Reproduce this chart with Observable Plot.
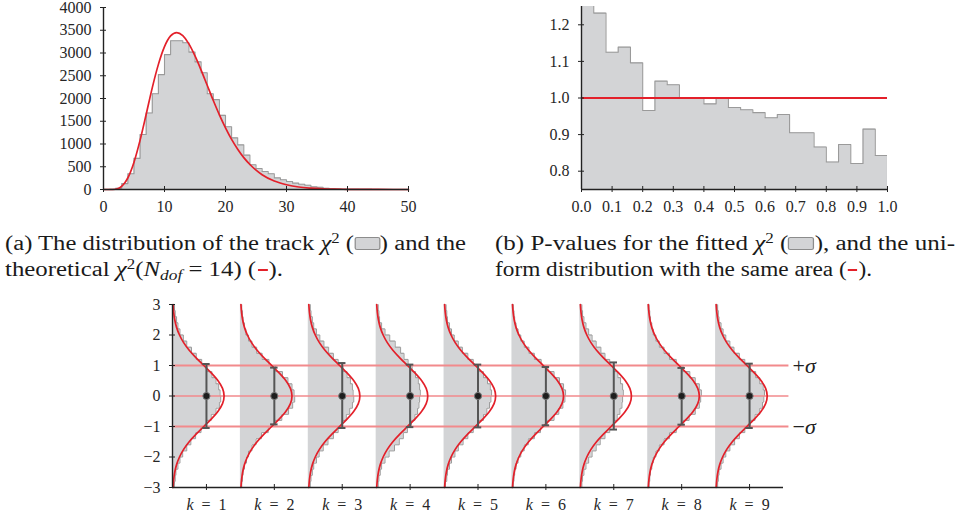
<!DOCTYPE html>
<html><head><meta charset="utf-8">
<script src="https://cdn.jsdelivr.net/npm/d3@7"></script>
<script src="https://cdn.jsdelivr.net/npm/@observablehq/plot@0.6"></script>
<style>
body{margin:0;background:#fff;}
#root{position:relative;width:960px;height:516px;overflow:hidden;font-family:"Liberation Serif","Times New Roman",serif;color:#1a1a1a;}
.panel{position:absolute;}
.cap{position:absolute;font-size:20px;line-height:20px;white-space:nowrap;transform-origin:0 0;}
.cap sup{font-size:0.68em;line-height:0;vertical-align:0.55em;}
.cap sub{font-size:0.7em;line-height:0;vertical-align:-0.3em;font-style:italic;}
.box{display:inline-block;width:19px;height:11px;background:#d3d4d6;border:1.5px solid #8c8c8c;border-radius:2px;vertical-align:0px;}
.dash{display:inline-block;width:8px;height:2.5px;background:#e32028;vertical-align:5px;margin:0 1px;}
</style></head>
<body><div id="root"></div>
<script>
// ---------- Panel (a): chi2 histogram ----------
const chi2BinLo = [0,1,2,3,4,5,6,7,8,9,10,11,12,13,14,15,16,17,18,19,20,21,22,23,24,25,26,27,28,29,30,31,32,33,34,35,36,37,38,39,40,41,42,43,44,45,46,47,48,49];
const chi2Counts = [0,2,25,130,345,685,1210,1680,2105,2525,2965,3270,3270,3225,3020,2805,2565,2105,1975,1630,1380,1135,980,755,545,460,395,345,255,215,175,140,115,95,60,50,25,15,10,6,4,3,2,2,1,1,1,0,0,0];
const chiCurveX = [0,1,2,2.5,3,3.5,4,5,6,7,8,9,10,11,12,13,14,15,16,17,18,19,20,21,22,23,24,26,28,30,32,34,36,38,40,45,50];
const chiCurveY = [0,0,5,25,75,150,258,600,1085,1655,2240,2750,3140,3375,3450,3380,3200,2935,2625,2290,1955,1640,1355,1100,885,700,550,325,185,105,55,30,15,8,4,1,0];
const chiXTicks = [0,10,20,30,40,50];
const chiYTicks = [0,500,1000,1500,2000,2500,3000,3500,4000];

// ---------- Panel (b): p-values ----------
const pBinLo = [0,0.04,0.08,0.12,0.16,0.20,0.24,0.28,0.32,0.36,0.40,0.44,0.48,0.52,0.56,0.60,0.64,0.68,0.72,0.76,0.80,0.84,0.88,0.92,0.96];
const pValues = [1.27,1.232,1.125,1.139,1.096,0.966,1.046,1.036,1.0,1.0,0.984,1.0,0.974,0.968,0.960,0.946,0.955,0.905,0.905,0.866,0.825,0.873,0.821,0.915,0.843];
const pUniform = [1.0];
const pXTicks = [0,0.1,0.2,0.3,0.4,0.5,0.6,0.7,0.8,0.9,1.0];
const pYTicks = [0.8,0.9,1.0,1.1,1.2];

// ---------- Panel (c): pulls per k ----------
const kVals = [1,2,3,4,5,6,7,8,9];
const sigBinLo = [-3,-2.8,-2.6,-2.4,-2.2,-2,-1.8,-1.6,-1.4,-1.2,-1,-0.8,-0.6,-0.4,-0.2,0,0.2,0.4,0.6,0.8,1,1.2,1.4,1.6,1.8,2,2.2,2.4,2.6,2.8];
const hist1 = [0.03,0.04,0.05,0.08,0.11,0.15,0.21,0.27,0.34,0.42,0.50,0.57,0.64,0.69,0.71,0.70,0.68,0.64,0.58,0.51,0.43,0.35,0.28,0.21,0.16,0.11,0.08,0.06,0.04,0.03];
const hist2 = [0.02,0.03,0.04,0.06,0.09,0.12,0.17,0.23,0.31,0.41,0.51,0.61,0.71,0.77,0.80,0.79,0.76,0.70,0.62,0.52,0.42,0.32,0.24,0.17,0.12,0.08,0.06,0.04,0.03,0.02];
const hist3 = [0.03,0.04,0.06,0.08,0.12,0.16,0.22,0.29,0.37,0.44,0.50,0.56,0.61,0.65,0.67,0.66,0.65,0.62,0.57,0.51,0.44,0.37,0.30,0.23,0.17,0.12,0.08,0.06,0.04,0.03];
const hist4 = [0.03,0.04,0.06,0.08,0.13,0.19,0.27,0.34,0.40,0.46,0.52,0.57,0.61,0.63,0.64,0.65,0.64,0.62,0.58,0.53,0.47,0.41,0.36,0.28,0.20,0.13,0.08,0.05,0.04,0.03];
const hist5 = [0.02,0.04,0.05,0.08,0.11,0.16,0.21,0.28,0.35,0.43,0.51,0.58,0.63,0.67,0.69,0.70,0.68,0.64,0.58,0.51,0.43,0.35,0.27,0.21,0.15,0.11,0.08,0.05,0.04,0.03];
const hist6 = [0.02,0.03,0.04,0.06,0.09,0.13,0.18,0.24,0.33,0.42,0.52,0.62,0.69,0.75,0.78,0.79,0.76,0.70,0.62,0.53,0.43,0.33,0.25,0.18,0.13,0.09,0.06,0.04,0.03,0.02];
const hist7 = [0.03,0.04,0.06,0.09,0.13,0.18,0.24,0.30,0.37,0.44,0.50,0.55,0.59,0.62,0.63,0.64,0.63,0.60,0.56,0.50,0.44,0.37,0.31,0.24,0.18,0.13,0.09,0.06,0.04,0.03];
const hist8 = [0.02,0.03,0.04,0.06,0.08,0.12,0.17,0.24,0.32,0.42,0.52,0.61,0.70,0.76,0.78,0.79,0.76,0.70,0.62,0.52,0.42,0.32,0.24,0.17,0.12,0.08,0.06,0.04,0.03,0.02];
const hist9 = [0.03,0.04,0.05,0.08,0.11,0.15,0.21,0.28,0.35,0.43,0.51,0.58,0.65,0.69,0.71,0.72,0.70,0.65,0.59,0.51,0.43,0.35,0.27,0.21,0.15,0.11,0.08,0.05,0.04,0.03];
const errHi = [1.05,0.93,1.08,1.03,1.03,0.95,1.10,0.92,1.06];
const errLo = [-1.05,-0.93,-1.05,-1.02,-1.03,-0.96,-1.10,-0.94,-1.05];
const gaussY = [-3,-2.75,-2.5,-2.25,-2,-1.75,-1.5,-1.25,-1,-0.75,-0.5,-0.25,0,0.25,0.5,0.75,1,1.25,1.5,1.75,2,2.25,2.5,2.75,3];
const gaussW = [0.008,0.017,0.033,0.060,0.103,0.164,0.246,0.348,0.461,0.574,0.671,0.737,0.760,0.737,0.671,0.574,0.461,0.348,0.246,0.164,0.103,0.060,0.033,0.017,0.008];
const sigmaLines = [-1,1];
const sigYTicks = [-3,-2,-1,0,1,2,3];
const sigmaLabels = ["+σ","−σ"];
const sigmaLabelY = [1,-1];

const RED = "#e3202a", GRAY = "#d3d4d6", EDGE = "#9a9a9a", AX = "#222", PINK = "#f28a8c";
const baseStyle = {fontFamily: "'Liberation Serif', 'Times New Roman', serif", fontSize: "16px", color: "#262626", background: "transparent", overflow: "visible"};
const root = document.getElementById("root");
function place(el, left, top) {
  const d = document.createElement("div"); d.className = "panel"; d.style.left = left + "px"; d.style.top = top + "px";
  d.appendChild(el); root.appendChild(d);
}
const minusFmt = d => (d < 0 ? "\u2212" + Math.abs(d) : String(d));

// Panel (a)
const aPts = chi2Counts.map((c, i) => ({x: chi2BinLo[i], y: c}));
aPts.push({x: chi2BinLo[chi2BinLo.length - 1] + 1, y: chi2Counts[chi2Counts.length - 1]});
const chiCurve = chiCurveX.map((x, i) => ({x, y: chiCurveY[i]}));
const plotA = Plot.plot({
  width: 420, height: 220, marginLeft: 103, marginRight: 12, marginTop: 7, marginBottom: 31,
  x: {domain: [0, 50], label: null}, y: {domain: [0, 4000], label: null},
  style: baseStyle,
  marks: [
    Plot.areaY(aPts, {x: "x", y: "y", curve: "step-after", fill: GRAY}),
    Plot.lineY(aPts, {x: "x", y: "y", curve: "step-after", stroke: EDGE, strokeWidth: 1.1}),
    Plot.line(chiCurve, {x: "x", y: "y", curve: "monotone-x", stroke: RED, strokeWidth: 1.7}),
    Plot.ruleX([0], {stroke: AX, strokeWidth: 1.4}),
    Plot.ruleY([0], {stroke: AX, strokeWidth: 1.4}),
    Plot.axisY(chiYTicks, {tickSize: 6, dx: 3, fill: "none", stroke: AX, label: null}),
    Plot.axisY(chiYTicks, {tickSize: 0, tickPadding: 12, tickFormat: "d", label: null}),
    Plot.axisX(chiXTicks, {tickSize: 6, dy: -3, fill: "none", stroke: AX, label: null}),
    Plot.axisX(chiXTicks, {tickSize: 0, tickPadding: 11, tickFormat: "d", label: null})
  ]
});
place(plotA, 0, 0);

// Panel (b)
const bPts = pValues.map((v, i) => ({x: pBinLo[i], y: v}));
bPts.push({x: 1.0, y: pValues[pValues.length - 1]});
bPts.push({x: 1.0, y: 0.75});
const plotB = Plot.plot({
  width: 420, height: 220, marginLeft: 91, marginRight: 23, marginTop: 6, marginBottom: 31,
  x: {domain: [0, 1], label: null}, y: {domain: [0.75, 1.25], label: null},
  style: baseStyle,
  marks: [
    Plot.areaY(bPts, {x: "x", y1: 0.75, y2: "y", curve: "step-after", fill: GRAY, clip: true}),
    Plot.lineY(bPts, {x: "x", y: "y", curve: "step-after", stroke: EDGE, strokeWidth: 1.1, clip: true}),
    Plot.ruleY(pUniform, {y: d => d, x1: 0, x2: 1, stroke: RED, strokeWidth: 2}),
    Plot.ruleX([0], {stroke: AX, strokeWidth: 1.4}),
    Plot.ruleY([0.75], {stroke: AX, strokeWidth: 1.4}),
    Plot.axisY(pYTicks, {tickSize: 6, dx: 3, fill: "none", stroke: AX, label: null}),
    Plot.axisY(pYTicks, {tickSize: 0, tickPadding: 12, tickFormat: ".1f", label: null}),
    Plot.axisX(pXTicks, {tickSize: 6, dy: -3, fill: "none", stroke: AX, label: null}),
    Plot.axisX(pXTicks, {tickSize: 0, tickPadding: 11, tickFormat: ".1f", label: null})
  ]
});
place(plotB, 490, 0);

// Panel (c)
const hists = [hist1, hist2, hist3, hist4, hist5, hist6, hist7, hist8, hist9];
const histPts = [];
kVals.forEach((k, j) => {
  const v = hists[j];
  v.forEach((w, i) => histPts.push({k, y: sigBinLo[i], w}));
  histPts.push({k, y: 3, w: v[v.length - 1]});
});
const gaussPts = [];
kVals.forEach(k => gaussY.forEach((y, i) => gaussPts.push({k, y, w: gaussW[i]})));
const errs = kVals.map((k, i) => ({k, hi: errHi[i], lo: errLo[i]}));
const plotC = Plot.plot({
  width: 720, height: 220, marginLeft: 52, marginRight: 57, marginTop: 8, marginBottom: 29,
  x: {domain: [0.5, 9.5], label: null}, y: {domain: [-3, 3], label: null},
  style: baseStyle,
  marks: [
    Plot.areaX(histPts, {y: "y", x1: d => d.k - 0.5, x2: d => d.k - 0.5 + d.w, z: "k", curve: "step-before", fill: GRAY}),
    Plot.lineX(histPts, {x: d => d.k - 0.5 + d.w, y: "y", z: "k", curve: "step-before", stroke: EDGE, strokeWidth: 1}),
    Plot.ruleY(sigmaLines, {y: d => d, x1: 0.5, x2: 9.58, stroke: PINK, strokeWidth: 2}),
    Plot.ruleY([0], {x1: 0.5, x2: 9.58, stroke: PINK, strokeWidth: 1.3}),
    Plot.line(gaussPts, {x: d => d.k - 0.5 + d.w, y: "y", z: "k", curve: "monotone-y", stroke: RED, strokeWidth: 1.7}),
    Plot.ruleX(errs, {x: "k", y1: "lo", y2: "hi", stroke: "#555", strokeWidth: 2}),
    Plot.ruleY(errs, {y: "hi", x1: d => d.k - 0.055, x2: d => d.k + 0.055, stroke: "#555", strokeWidth: 2}),
    Plot.ruleY(errs, {y: "lo", x1: d => d.k - 0.055, x2: d => d.k + 0.055, stroke: "#555", strokeWidth: 2}),
    Plot.dot(errs, {x: "k", y: 0, r: 3.6, fill: "#1e1e1e", stroke: "#777", strokeWidth: 1}),
    Plot.ruleX([0.5], {stroke: AX, strokeWidth: 1.4}),
    Plot.ruleY([-3], {stroke: AX, strokeWidth: 1.4}),
    Plot.axisY(sigYTicks, {tickSize: 6, dx: 3, fill: "none", stroke: AX, label: null}),
    Plot.axisY(sigYTicks, {tickSize: 0, tickPadding: 12, tickFormat: minusFmt, label: null}),
    Plot.axisX(kVals, {tickSize: 6, dy: -3, fill: "none", stroke: AX, label: null}),
    Plot.axisX(kVals, {tickSize: 0, tickPadding: 11, tickFormat: d => "k\u2002=\u2002" + d, label: null}),
    Plot.text(sigmaLabels, {x: 9.5, y: (d, i) => sigmaLabelY[i], dx: 9, textAnchor: "start", fontSize: 22, fill: "#222"})
  ]
});
d3.select(plotC).selectAll("text").each(function() {
  const t = this.textContent;
  if (/^k\u2002=/.test(t)) {
    const s = d3.select(this);
    s.text(null);
    s.append("tspan").attr("font-style", "italic").text("k");
    s.append("tspan").text(t.slice(1));
  } else if (t === "+σ" || t === "−σ") {
    const s = d3.select(this);
    s.text(null);
    s.append("tspan").text(t[0]);
    s.append("tspan").attr("font-style", "italic").text("σ");
  }
});
place(plotC, 120, 296);

// Captions
const caps = [
  {html: '(a) The distribution of the track <i>χ</i><sup>2</sup> (<span class="box"></span>) and the', left: 5, top: 233, w: 461},
  {html: 'theoretical <i>χ</i><sup>2</sup>(<i>N</i><sub>dof</sub> = 14) (<span class="dash"></span>).', left: 5, top: 259, w: 278},
  {html: '(b) P-values for the fitted <i>χ</i><sup>2</sup> (<span class="box"></span>), and the uni-', left: 495, top: 233, w: 460},
  {html: 'form distribution with the same area (<span class="dash"></span>).', left: 495, top: 259, w: 377}
];
caps.forEach(c => {
  const d = document.createElement("div");
  d.className = "cap"; d.innerHTML = c.html;
  d.style.left = c.left + "px"; d.style.top = c.top + "px";
  root.appendChild(d);
  const w = d.getBoundingClientRect().width;
  d.style.transform = `scaleX(${c.w / w})`;
});
</script>
</body></html>
